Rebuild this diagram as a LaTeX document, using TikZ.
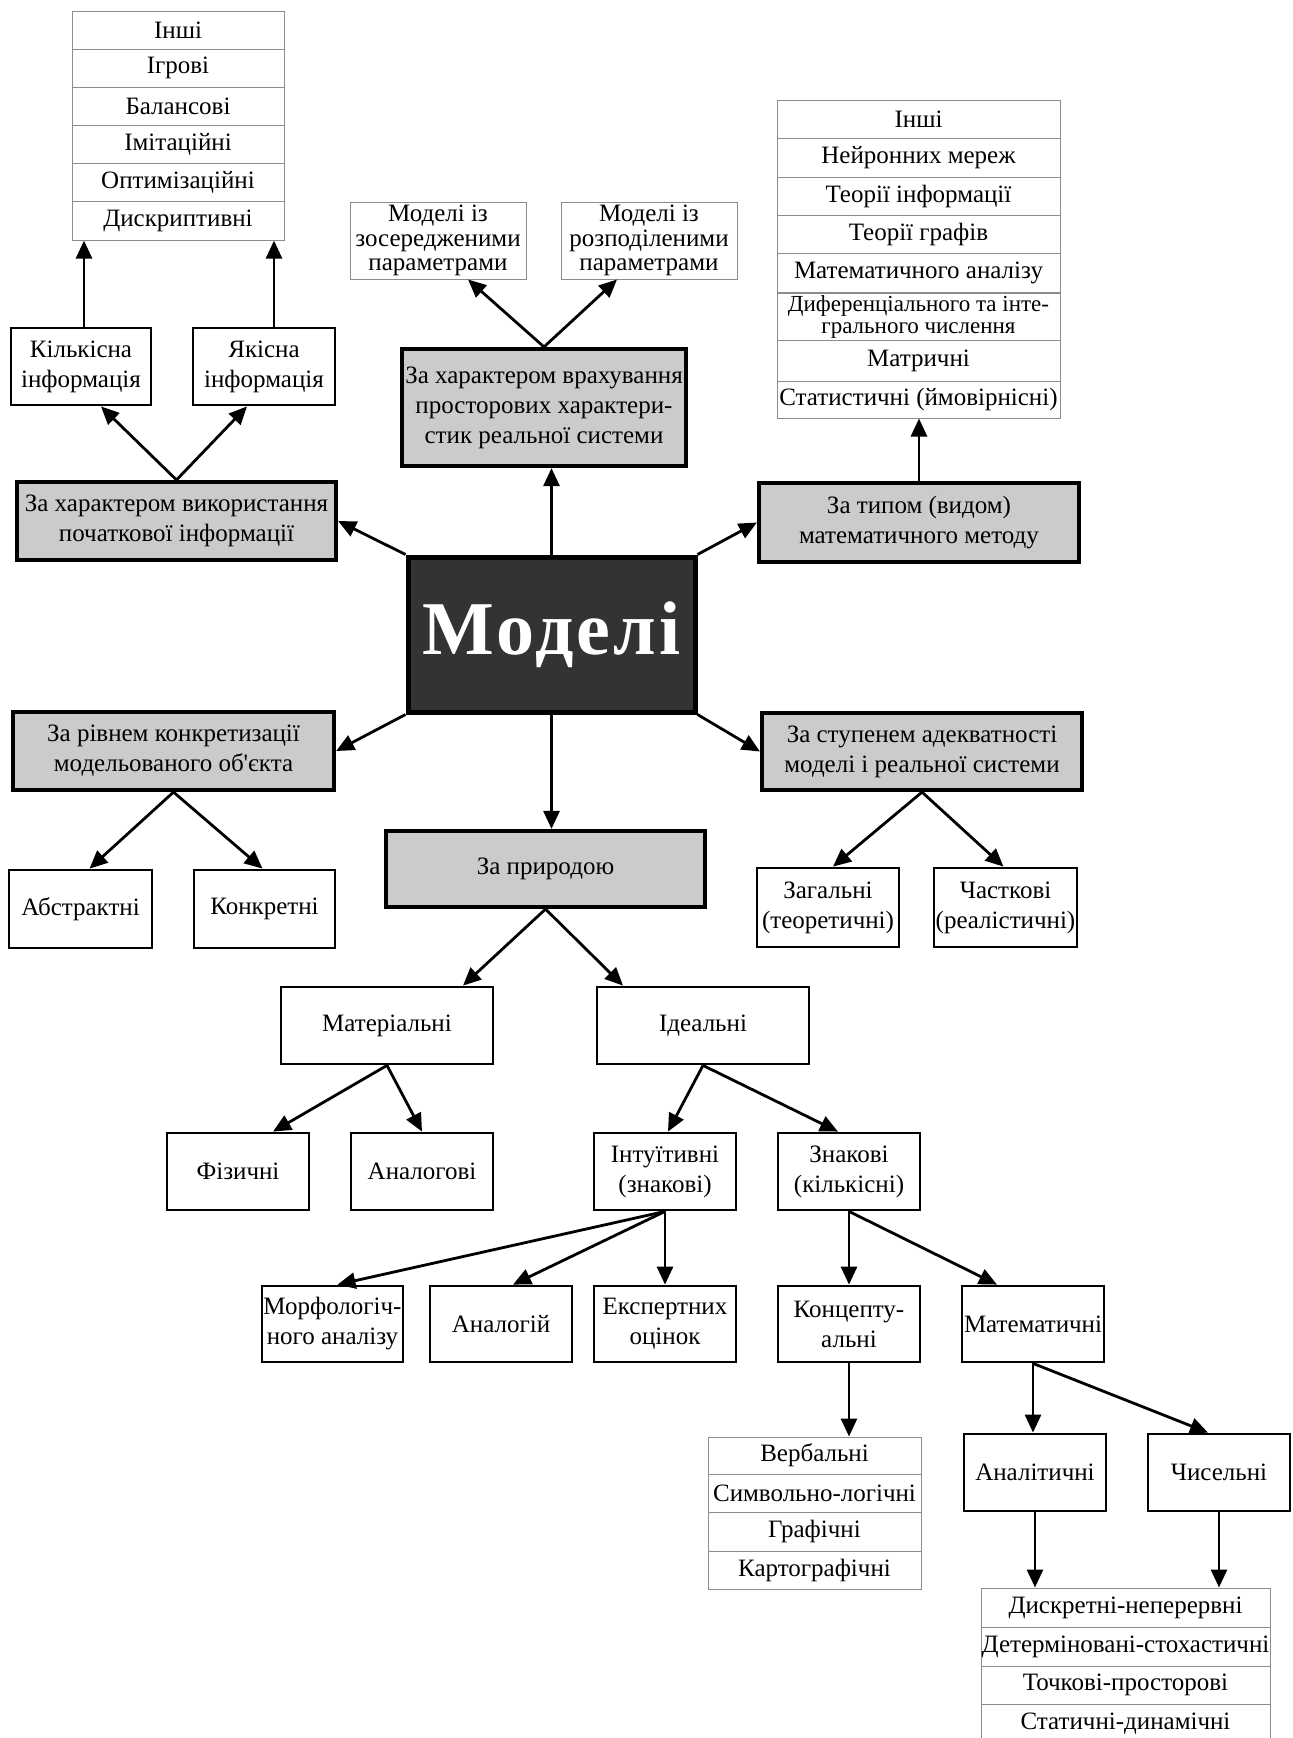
\documentclass[tikz,border=0pt]{standalone}
\usepackage{fontspec}
\setmainfont{Liberation Serif}
\usetikzlibrary{arrows.meta,calc}
\definecolor{boxgray}{HTML}{CBCBCB}
\definecolor{mdark}{HTML}{333333}
\definecolor{listgray}{HTML}{8C8C8C}
\newcommand\tfs{\fontsize{25}{30}\selectfont}
\newcommand\zfs{\fontsize{25}{24.5}\selectfont}
\begin{document}
\begin{tikzpicture}[x=1pt,y=-1pt,
  every node/.style={font=\tfs, align=center, inner sep=0pt},
  gbox/.style={draw, line width=4.2pt, fill=boxgray},
  wbox/.style={draw, line width=2.8pt, fill=white},
  lbox/.style={draw=listgray, line width=1pt, fill=white},
  mbox/.style={draw, line width=5pt, fill=mdark, text=white},
  arr/.style={line width=2.8pt, -{Triangle[length=18pt,width=16pt]}},
  sz/.style 2 args={minimum width=#1pt, minimum height=#2pt}]
\fill[white] (0,0) rectangle (1293,1738);
\useasboundingbox (0,0) rectangle (1293,1738);

% ---- list A (top left)
\node[lbox, sz={212}{38.2}] (A1) at (178,30.1) {Інші};
\node[lbox, sz={212}{38.2}] (A2) at (178,68.3) {Ігрові};
\node[lbox, sz={212}{38.2}] (A3) at (178,106.4) {Балансові};
\node[lbox, sz={212}{38.2}] (A4) at (178,144.6) {Імітаційні};
\node[lbox, sz={212}{38.2}] (A5) at (178,182.8) {Оптимізаційні};
\node[lbox, sz={212}{38.2}] (A6) at (178,221.0) {Дискриптивні};

\node[wbox, sz={140}{77}] (K) at (81,366.5) {Кількісна\\інформація};
\node[wbox, sz={142}{77}] (Ya) at (264,366.5) {Якісна\\інформація};
\node[gbox, sz={319}{78}] (G1) at (176.5,521) {За характером використання\\початкової інформації};

% ---- top middle
\node[lbox, sz={176}{77}, font=\zfs] (Z1) at (438,240.5) {Моделі із\\зосередженими\\параметрами};
\node[lbox, sz={176}{77}, font=\zfs] (Z2) at (649,240.5) {Моделі із\\розподіленими\\параметрами};
\node[gbox, sz={284}{117}] (G2) at (544,407.5) {За характером врахування\\просторових характери-\\стик реальної системи};

% ---- list B (top right)
\node[lbox, sz={283}{38}] (B1) at (918.5,119) {Інші};
\node[lbox, sz={283}{39}] (B2) at (918.5,157.5) {Нейронних мереж};
\node[lbox, sz={283}{38}] (B3) at (918.5,196) {Теорії інформації};
\node[lbox, sz={283}{38}] (B4) at (918.5,234) {Теорії графів};
\node[lbox, sz={283}{39}] (B5) at (918.5,272.5) {Математичного аналізу};
\node[lbox, sz={283}{48}, font=\fontsize{23}{21.5}\selectfont] (B6) at (918.5,317) {Диференціального та інте-\\грального числення};
\node[lbox, sz={283}{41}] (B7) at (918.5,360.5) {Матричні};
\node[lbox, sz={283}{37}] (B8) at (918.5,399.5) {Статистичні (ймовірнісні)};
\node[gbox, sz={320}{79}] (G3) at (919,522.5) {За типом (видом)\\математичного методу};

% ---- centre
\node[mbox, sz={287}{155}, font=\fontsize{76}{80}\selectfont\bfseries\addfontfeature{LetterSpace=4}] (M) at (551.5,634.5) {Моделі};

% ---- left middle
\node[gbox, sz={321}{78}] (G4) at (173.5,751) {За рівнем конкретизації\\модельованого об\textquotesingle єкта};
\node[wbox, sz={143}{78}] (Abs) at (80.5,909) {Абстрактні};
\node[wbox, sz={141}{78}] (Kon) at (264.5,909) {Конкретні};

% ---- right middle
\node[gbox, sz={320}{77}] (G5) at (922,751.5) {За ступенем адекватності\\моделі і реальної системи};
\node[wbox, sz={142}{79}] (Zag) at (828,907.5) {Загальні\\(теоретичні)};
\node[wbox, sz={143}{79}] (Chas) at (1005.5,907.5) {Часткові\\(реалістичні)};

% ---- bottom tree
\node[gbox, sz={319}{76}] (G6) at (545.5,869) {За природою};
\node[wbox, sz={212}{77}] (Mat) at (387,1025.5) {Матеріальні};
\node[wbox, sz={212}{77}] (Id) at (703,1025.5) {Ідеальні};
\node[wbox, sz={142}{77}] (Fiz) at (238,1171.5) {Фізичні};
\node[wbox, sz={142}{77}] (Anal) at (422,1171.5) {Аналогові};
\node[wbox, sz={142}{77}] (Int) at (665,1171.5) {Інтуїтивні\\(знакові)};
\node[wbox, sz={142}{77}] (Zn) at (849,1171.5) {Знакові\\(кількісні)};
\node[wbox, sz={141}{76}] (Morf) at (332.5,1324) {Морфологіч-\\ного аналізу};
\node[wbox, sz={142}{76}] (Analog) at (501,1324) {Аналогій};
\node[wbox, sz={142}{76}] (Eksp) at (665,1324) {Експертних\\оцінок};
\node[wbox, sz={142}{76}] (Konc) at (849,1324) {Концепту-\\альні};
\node[wbox, sz={142}{76}] (Matem) at (1033,1324) {Математичні};

% ---- list C
\node[lbox, sz={213}{37}] (C1) at (814.5,1455.5) {Вербальні};
\node[lbox, sz={213}{38}] (C2) at (814.5,1493) {Символьно-логічні};
\node[lbox, sz={213}{39}] (C3) at (814.5,1531.5) {Графічні};
\node[lbox, sz={213}{38}] (C4) at (814.5,1570) {Картографічні};

\node[wbox, sz={142}{77}] (Analit) at (1035,1472.5) {Аналітичні};
\node[wbox, sz={142}{77}] (Chys) at (1219,1472.5) {Чисельні};

% ---- list D
\node[lbox, sz={289}{39}] (D1) at (1125.5,1607.5) {Дискретні-неперервні};
\node[lbox, sz={289}{39}] (D2) at (1125.5,1646.5) {Детерміновані-стохастичні};
\node[lbox, sz={289}{38}] (D3) at (1125.5,1685) {Точкові-просторові};
\node[lbox, sz={289}{39}] (D4) at (1125.5,1723.5) {Статичні-динамічні};

% ---- connectors
\draw[arr] ($(K.north)+(3,0)$) -- ($(K.north|-A6.south)+(3,0)$);
\draw[arr] ($(Ya.north)+(10,0)$) -- ($(Ya.north|-A6.south)+(10,0)$);
\draw[arr] (G1.north) -- ($(K.south)+(20,0)$);
\draw[arr] (G1.north) -- ($(Ya.south)+(-17,0)$);
\draw[arr] (M.north west) -- (G1.east);
\draw[arr] (M.north) -- (M.north |- G2.south);
\draw[arr] (G2.north) -- ($(Z1.south)+(30,0)$);
\draw[arr] (G2.north) -- ($(Z2.south)+(-32,0)$);
\draw[arr] (M.north east) -- (G3.west);
\draw[arr] (G3.north) -- (G3.north |- B8.south);
\draw[arr] (M.south west) -- (G4.east);
\draw[arr] (M.south east) -- (G5.west);
\draw[arr] (M.south) -- (M.south |- G6.north);
\draw[arr] (G4.south) -- ($(Abs.north)+(9,0)$);
\draw[arr] (G4.south) -- ($(Kon.north)+(-2,0)$);
\draw[arr] (G5.south) -- ($(Zag.north)+(5,0)$);
\draw[arr] (G5.south) -- ($(Chas.north)+(-2,0)$);
\draw[arr] (G6.south) -- ($(Mat.north)+(76,0)$);
\draw[arr] (G6.south) -- ($(Id.north)+(-80,0)$);
\draw[arr] (Mat.south) -- ($(Fiz.north)+(35,0)$);
\draw[arr] (Mat.south) -- (Anal.north);
\draw[arr] (Id.south) -- ($(Int.north)+(3,0)$);
\draw[arr] (Id.south) -- ($(Zn.north)+(-11,0)$);
\draw[arr] (Int.south) -- (Eksp.north);
\draw[arr] (Int.south) -- ($(Analog.north)+(12,0)$);
\draw[arr] (Int.south) -- ($(Morf.north)+(5,0)$);
\draw[arr] (Zn.south) -- (Konc.north);
\draw[arr] (Zn.south) -- ($(Matem.north)+(-36,0)$);
\draw[arr] (Konc.south) -- (Konc.south |- C1.north);
\draw[arr] (Matem.south) -- (Matem.south |- Analit.north);
\draw[arr] (Matem.south) -- ($(Chys.north)+(-11,0)$);
\draw[arr] (Analit.south) -- (Analit.south |- D1.north);
\draw[arr] (Chys.south) -- (Chys.south |- D1.north);
\end{tikzpicture}
\end{document}
